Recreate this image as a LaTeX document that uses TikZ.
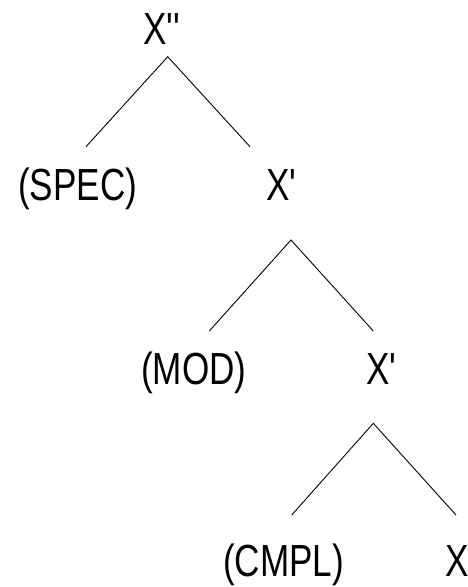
\documentclass[tikz,border=0pt]{standalone}
\usepackage{fontspec}
\setmainfont{Liberation Sans}[FakeStretch=0.78,Ligatures=TeXOff]
\begin{document}
\begin{tikzpicture}[x=1pt,y=-1pt,
  lbl/.style={anchor=base west,inner sep=0pt,font=\fontsize{45}{48}\selectfont},
  edge/.style={draw=black,line width=0.9pt}]
\useasboundingbox (0,0) rectangle (468,587);
% labels
\node[lbl] (top) at (143,44.5) {X''};
\node[lbl] (spec) at (18,200) {(SPEC)};
\node[lbl] (xb1) at (266,200) {X'};
\node[lbl] (mod) at (141,384) {(MOD)};
\node[lbl] (xb2) at (366,384) {X'};
\node[lbl] (cmpl) at (223,576.5) {(CMPL)};
\node[lbl] (x0) at (445,576.5) {X};
% branch points
\coordinate (a1) at (167.7,56.7);
\coordinate (l1) at (86,146.7);
\coordinate (r1) at (250,146.7);
\coordinate (a2) at (291,240);
\coordinate (l2) at (209.3,331);
\coordinate (r2) at (373.3,331);
\coordinate (a3) at (373.3,423.3);
\coordinate (l3) at (291.7,515);
\coordinate (r3) at (456,515);
% connectors
\draw[edge] (l1) -- (a1) -- (r1);
\draw[edge] (l2) -- (a2) -- (r2);
\draw[edge] (l3) -- (a3) -- (r3);
\end{tikzpicture}
\end{document}
